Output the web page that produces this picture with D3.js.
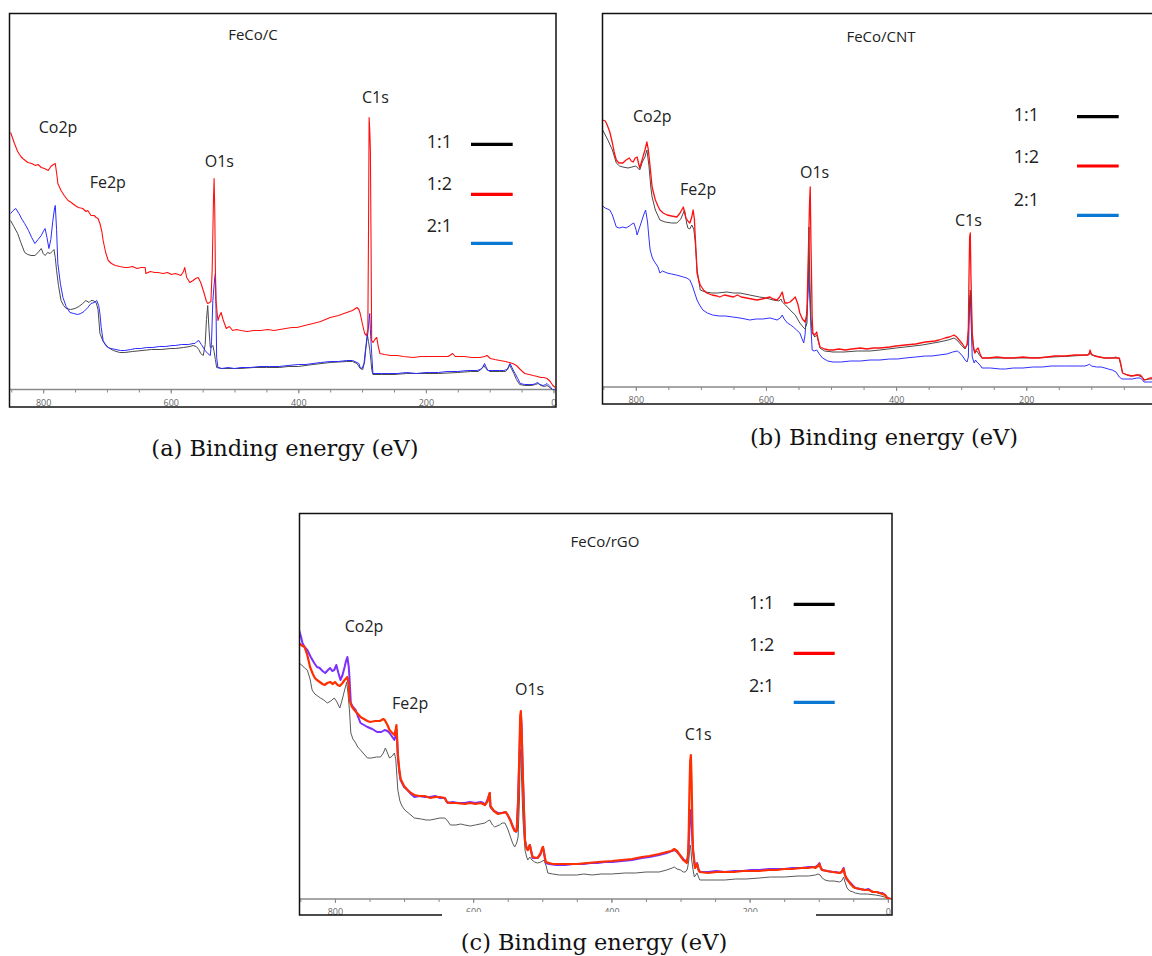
<!DOCTYPE html>
<html>
<head>
<meta charset="utf-8">
<script src="https://cdn.jsdelivr.net/npm/d3@7/dist/d3.min.js"></script>
<style>
  body { margin: 0; background: #fff; }
  svg { display: block; }
  .lbl { font-family: "Open Sans", sans-serif; fill: #222; }
  .cap { font-family: "DejaVu Serif", serif; fill: #111; }
  .tick text { font-family: "Open Sans", sans-serif; fill: #666; }
</style>
</head>
<body>
<div id="chart"></div>
<script>
// ---- data: [binding energy (eV), intensity (a.u.)] ----

// (a) FeCo/C
var aRatio11 = [[851,169],[846,163],[840,156],[835,147],[829,137],[824,135],[819,134],[813,134],[808,137],[803,141],[800,136],[797,134],[793,137],[789,136],[786,138],[783,140],[781,132],[779,119],[776,104],[772,89],[768,84],[764,81],[757,80],[750,81],[744,83],[738,86],[733,89],[728,87],[725,89],[722,89],[717,87],[714,80],[711,56],[706,48],[698,42],[690,39],[680,37],[672,37],[660,38],[645,39],[630,40],[615,40],[600,41],[593,41],[580,42],[570,43],[565,44],[560,43],[556,40],[553,36],[549,34],[546,45],[544,70],[542,84],[540,60],[538,42],[535,43],[534,44],[532,38],[530,30],[528,22],[520,21],[510,21],[500,21],[490,21],[470,22],[450,22],[430,22],[416,23],[400,23],[377,25],[350,27],[324,28],[315,28],[308,26],[303,21],[299,20],[296,28],[294,42],[292,56],[290,48],[288,40],[286,28],[285,20],[283,15],[270,15],[250,15],[230,16],[200,16],[180,16],[150,17],[130,18],[118,18],[112,21],[109,24],[106,21],[100,18],[85,18],[75,18],[71,21],[69,25],[66,21],[62,16],[58,10],[53,5],[45,4],[35,4],[28,5],[24,6],[20,4],[14,3],[10,4],[6,2],[2,0],[-3,0]];
var aRatio12 = [[851,257],[845,246],[840,238],[835,233],[832,231],[828,229],[824,227],[818,226],[812,224],[808,225],[803,222],[798,221],[792,219],[788,223],[784,225],[781,226],[778,212],[777,206],[772,199],[767,194],[761,189],[756,187],[750,184],[745,182],[738,181],[733,178],[730,179],[727,176],[725,174],[720,174],[717,172],[714,171],[711,166],[708,158],[706,149],[702,137],[698,129],[693,126],[687,124],[680,123],[672,122],[667,122],[660,123],[653,121],[646,122],[640,122],[639,116],[632,118],[625,117],[620,117],[612,116],[605,117],[599,115],[593,116],[588,115],[584,114],[580,118],[578,122],[575,112],[570,107],[565,109],[561,111],[557,112],[553,107],[548,97],[544,88],[542,86],[539,87],[537,88],[535,120],[533,190],[532,211],[531,180],[530,120],[529,89],[527,75],[526,69],[524,73],[521,77],[518,70],[513,61],[508,63],[503,59],[497,60],[490,59],[480,58],[470,59],[459,59],[448,60],[438,59],[429,60],[420,61],[410,62],[402,62],[390,64],[377,66],[365,68],[350,72],[337,74],[324,77],[315,79],[308,82],[305,80],[303,76],[300,67],[296,56],[293,54],[291,60],[290,150],[289,272],[288,260],[287,240],[286,150],[285,49],[283,47],[280,50],[277,52],[275,44],[272,36],[265,35],[255,34],[245,34],[235,33],[220,32],[208,33],[194,33],[180,33],[165,33],[158,36],[154,33],[140,33],[128,32],[115,32],[108,33],[104,34],[99,31],[92,30],[84,29],[75,28],[64,26],[58,24],[52,20],[45,16],[38,15],[32,14],[25,13],[20,12],[15,12],[10,11],[5,8],[1,4],[-3,2]];
var aRatio21 = [[851,176],[847,179],[843,181],[838,176],[833,170],[829,166],[823,159],[818,152],[813,146],[808,150],[803,154],[799,159],[797,161],[794,152],[791,141],[788,150],[785,168],[782,182],[781,184],[779,160],[777,126],[773,106],[769,92],[764,83],[758,77],[752,76],[746,75],[741,76],[736,78],[730,82],[725,86],[720,87],[716,89],[713,84],[711,76],[709,62],[706,49],[702,44],[698,42],[694,41],[686,40],[679,39],[672,39],[663,40],[655,41],[647,41],[638,42],[628,42],[618,43],[608,43],[598,44],[593,44],[583,45],[572,45],[565,46],[562,46],[559,48],[556,49],[552,45],[546,39],[542,36],[538,34],[536,48],[534,89],[531,112],[530,116],[529,80],[528,32],[526,22],[520,21],[510,22],[500,21],[490,22],[475,22],[460,23],[445,23],[430,23],[416,24],[400,25],[388,25],[377,26],[365,27],[350,28],[337,28],[324,29],[315,29],[308,27],[305,26],[303,22],[300,21],[297,26],[295,38],[291,56],[289,70],[288,76],[287,60],[285,36],[283,16],[270,16],[258,16],[245,16],[230,17],[215,16],[200,17],[194,17],[180,17],[167,18],[150,18],[135,19],[120,19],[115,20],[111,22],[108,26],[106,23],[103,19],[95,19],[85,19],[78,19],[73,20],[70,23],[68,26],[65,22],[62,18],[60,16],[56,11],[52,6],[45,5],[38,5],[32,5],[28,6],[25,7],[21,5],[16,4],[12,5],[10,6],[7,4],[4,2],[2,0],[-3,0]];

// (b) FeCo/CNT
var bRatio11 = [[851,257],[847,252],[843,247],[836,237],[830,224],[825,221],[820,220],[812,219],[806,220],[800,221],[794,217],[790,225],[786,230],[783,237],[780,222],[777,200],[775,190],[770,177],[763,167],[755,165],[745,164],[737,164],[731,168],[727,174],[725,177],[722,164],[720,159],[717,158],[714,162],[711,158],[709,147],[706,118],[703,105],[701,97],[693,95],[683,94],[675,94],[660,95],[650,94],[640,94],[625,92],[610,90],[600,89],[589,87],[580,86],[577,88],[575,85],[570,82],[563,77],[555,72],[548,64],[543,60],[540,58],[537,64],[535,110],[534,160],[533,120],[531,70],[529,54],[525,50],[522,52],[517,39],[510,36],[497,35],[480,35],[460,36],[440,36],[425,37],[400,39],[386,40],[360,42],[334,45],[320,47],[311,49],[305,46],[300,42],[294,38],[290,44],[288,70],[286,97],[284,70],[283,50],[281,38],[279,34],[276,36],[272,32],[268,29],[240,29],[200,29],[160,30],[130,31],[105,32],[102,36],[100,32],[80,29],[68,29],[62,30],[57,28],[54,20],[52,14],[40,11],[30,12],[22,10],[19,7],[10,8],[2,8],[-3,8]];
var bRatio12 = [[851,267],[847,266],[844,262],[840,255],[836,244],[833,234],[830,227],[826,224],[820,224],[815,227],[810,229],[807,226],[804,225],[801,229],[798,230],[796,224],[794,219],[790,228],[786,237],[783,245],[781,238],[778,220],[775,200],[772,192],[770,187],[766,181],[763,177],[758,174],[752,172],[745,171],[737,170],[732,174],[727,180],[725,174],[723,169],[720,166],[717,164],[714,170],[712,177],[710,168],[709,154],[707,130],[706,114],[703,106],[701,102],[696,97],[691,94],[683,92],[675,91],[671,90],[664,92],[657,91],[650,90],[644,92],[638,90],[630,89],[622,88],[614,87],[606,88],[600,89],[594,90],[589,88],[583,87],[579,90],[575,95],[573,89],[571,84],[567,84],[563,85],[558,88],[555,90],[551,83],[548,74],[544,68],[540,65],[538,70],[537,77],[535,130],[533,185],[532,200],[531,150],[529,70],[528,54],[525,52],[522,55],[520,48],[517,40],[510,38],[503,37],[497,37],[488,38],[478,37],[468,38],[455,39],[445,38],[435,39],[425,39],[410,40],[400,41],[386,42],[370,43],[355,45],[340,46],[334,47],[325,49],[318,50],[311,52],[307,50],[303,47],[298,43],[294,39],[291,42],[289,57],[288,110],[287,150],[286,154],[285,110],[283,54],[281,40],[279,34],[277,37],[274,39],[271,33],[268,29],[258,29],[245,30],[232,29],[220,29],[205,30],[192,29],[180,29],[168,30],[156,31],[140,31],[125,32],[112,32],[105,32],[103,33],[102,37],[100,33],[95,31],[88,30],[79,29],[72,29],[68,29],[62,29],[57,29],[55,24],[52,14],[45,12],[37,11],[30,12],[25,12],[22,10],[19,7],[14,8],[10,9],[6,9],[2,8],[-3,8]];
var bRatio21 = [[851,181],[847,179],[840,177],[836,172],[830,160],[825,159],[820,160],[815,159],[810,161],[806,163],[803,164],[800,158],[798,152],[795,158],[791,166],[788,172],[785,177],[782,165],[780,150],[778,137],[775,130],[773,127],[769,123],[766,120],[763,114],[759,116],[752,114],[745,113],[738,112],[732,111],[727,110],[722,109],[717,107],[713,101],[710,95],[706,87],[702,82],[697,77],[690,74],[682,72],[672,71],[662,71],[651,70],[640,69],[632,68],[625,67],[615,68],[605,68],[594,69],[588,68],[583,67],[578,69],[575,72],[572,68],[567,64],[562,62],[558,60],[553,57],[548,54],[545,49],[542,44],[540,52],[538,70],[537,74],[535,100],[534,120],[533,95],[531,60],[529,37],[526,36],[522,37],[518,33],[513,29],[505,26],[497,25],[485,25],[470,26],[455,26],[440,27],[425,27],[410,28],[398,28],[386,29],[370,30],[355,31],[345,31],[334,32],[322,33],[313,35],[306,36],[302,34],[298,31],[294,27],[291,25],[289,30],[288,60],[287,88],[286,92],[285,70],[283,30],[280,24],[278,27],[276,25],[274,24],[270,21],[268,19],[255,19],[240,18],[232,18],[220,19],[205,19],[190,20],[175,20],[162,21],[156,21],[140,21],[125,21],[110,21],[105,22],[103,23],[100,21],[92,20],[85,20],[79,19],[74,18],[68,17],[62,15],[57,10],[53,8],[45,8],[37,8],[30,9],[25,9],[21,7],[19,5],[12,5],[6,5],[2,5],[-3,5]];

// (c) FeCo/rGO
var cRatio11 = [[852,236],[848,234],[844,231],[840,229],[836,220],[833,209],[829,205],[825,203],[821,201],[816,199],[811,196],[806,198],[801,201],[797,197],[793,191],[790,198],[786,209],[784,214],[783,217],[781,205],[779,189],[777,166],[774,160],[770,156],[767,152],[763,149],[758,145],[753,141],[747,141],[740,142],[734,142],[730,146],[727,151],[724,146],[721,141],[717,143],[714,146],[712,140],[709,109],[706,98],[703,93],[699,89],[692,85],[685,81],[675,80],[668,79],[662,79],[655,80],[648,81],[641,81],[637,78],[633,74],[625,74],[618,75],[612,74],[604,73],[597,74],[590,75],[583,76],[579,78],[576,79],[572,74],[569,72],[562,74],[558,76],[554,76],[550,70],[546,62],[543,56],[540,52],[537,56],[535,62],[533,100],[532,140],[531,150],[530,120],[528,80],[526,60],[525,49],[523,43],[521,39],[518,42],[515,39],[511,37],[507,36],[502,37],[497,39],[494,32],[492,26],[485,25],[475,24],[467,24],[450,24],[440,25],[428,24],[415,25],[400,25],[380,26],[365,26],[350,27],[331,27],[320,29],[312,31],[309,32],[305,30],[300,29],[296,27],[293,27],[290,30],[288,39],[287,48],[286,54],[285,50],[284,40],[282,30],[280,22],[278,24],[276,26],[274,22],[272,19],[260,19],[250,19],[236,19],[220,20],[205,20],[186,21],[170,22],[150,22],[130,23],[115,23],[105,24],[101,25],[98,24],[95,21],[91,19],[85,18],[78,18],[70,17],[67,18],[64,22],[62,17],[59,11],[55,8],[50,7],[47,6],[40,5],[30,5],[18,4],[10,3],[5,2],[1,1],[-4,0],[-6,0]];
var cRatio12 = [[852,256],[849,254],[844,252],[840,244],[836,232],[832,225],[829,221],[826,219],[822,217],[818,215],[815,214],[811,216],[807,217],[803,215],[800,217],[796,214],[793,213],[789,216],[786,219],[782,222],[780,214],[779,199],[776,193],[772,189],[768,186],[763,182],[758,180],[753,178],[749,177],[742,178],[735,178],[730,180],[728,179],[724,174],[721,169],[717,166],[714,164],[712,170],[711,174],[710,160],[709,145],[707,130],[705,120],[700,113],[695,109],[690,106],[685,104],[678,103],[670,103],[662,101],[655,102],[648,102],[641,101],[638,97],[634,96],[625,96],[612,95],[604,96],[597,95],[589,96],[583,94],[579,98],[577,104],[576,106],[575,93],[570,88],[564,85],[558,86],[553,87],[550,84],[546,78],[542,71],[540,68],[537,68],[535,95],[533,150],[532,182],[531,188],[530,170],[528,120],[526,78],[525,58],[523,51],[521,49],[518,54],[516,47],[514,42],[507,41],[503,45],[500,51],[499,52],[497,44],[495,37],[485,35],[467,35],[450,35],[435,36],[420,37],[399,38],[385,39],[370,40],[356,42],[345,43],[331,45],[320,47],[313,48],[309,50],[305,48],[301,44],[296,39],[291,36],[289,45],[288,70],[287,110],[286,138],[285,144],[284,120],[283,80],[282,50],[280,36],[279,31],[277,34],[276,35],[274,29],[272,27],[260,26],[248,27],[236,27],[222,27],[210,28],[198,28],[186,28],[172,29],[160,29],[150,30],[138,30],[125,31],[115,31],[108,32],[105,31],[101,33],[99,35],[97,31],[95,29],[88,28],[80,27],[70,26],[67,27],[64,30],[62,24],[60,21],[57,18],[54,15],[50,12],[47,11],[40,10],[33,9],[28,9],[24,8],[22,7],[16,7],[12,6],[8,5],[4,4],[1,1],[-4,0],[-6,0]];
var cRatio21 = [[852,269],[849,262],[847,256],[844,252],[840,249],[835,242],[830,236],[826,232],[822,231],[818,228],[814,226],[810,229],[807,231],[804,228],[801,229],[798,234],[795,226],[792,219],[789,224],[786,232],[784,238],[782,242],[780,232],[779,222],[777,196],[774,192],[770,189],[767,183],[763,176],[758,174],[753,172],[746,170],[739,167],[733,167],[728,169],[724,168],[721,166],[717,162],[714,159],[712,164],[711,169],[710,158],[709,142],[707,128],[705,119],[700,112],[695,109],[690,105],[685,102],[678,103],[670,102],[662,102],[655,103],[648,101],[641,101],[639,98],[637,96],[630,97],[622,96],[612,96],[605,97],[597,96],[589,97],[585,96],[583,94],[580,98],[577,104],[576,106],[575,92],[570,88],[564,86],[558,86],[553,87],[550,84],[546,79],[543,73],[540,69],[538,67],[537,69],[535,100],[534,122],[532,170],[531,186],[530,175],[528,122],[526,80],[525,59],[523,52],[521,49],[519,53],[518,54],[516,48],[514,41],[510,41],[507,41],[503,44],[500,50],[499,52],[497,45],[495,36],[490,35],[480,34],[467,34],[455,35],[440,35],[430,36],[420,36],[410,37],[399,37],[385,38],[370,39],[356,41],[345,42],[331,44],[320,46],[313,48],[309,49],[305,47],[301,44],[296,40],[291,37],[289,42],[288,56],[287,70],[286,85],[285,89],[284,80],[283,60],[282,49],[280,38],[279,32],[277,34],[276,36],[274,30],[272,27],[260,27],[248,28],[236,27],[222,28],[210,28],[198,29],[186,29],[172,30],[160,30],[150,30],[138,31],[125,31],[115,32],[108,32],[105,32],[101,34],[99,36],[97,31],[95,29],[88,28],[80,27],[75,27],[70,26],[67,27],[64,31],[62,24],[60,20],[57,18],[54,16],[50,13],[47,11],[40,10],[33,9],[28,10],[24,8],[22,7],[16,7],[12,6],[8,6],[4,4],[1,1],[-4,0],[-6,0]];

var legendLabels = ["1:1", "1:2", "2:1"];
var peakLabels = ["Co2p", "Fe2p", "O1s", "C1s"];
var tickLabels = [800, 600, 400, 200, 0];
var titles = ["FeCo/C", "FeCo/CNT", "FeCo/rGO"];
var captions = ["(a) Binding energy (eV)", "(b) Binding energy (eV)", "(c) Binding energy (eV)"];

// ---- layout (pixels) ----
var W = 1152, H = 956;
var legendColors = ["#000000", "#ff0000", "#0a78d2"];

var panels = [
  { series: [aRatio11, aRatio21, aRatio12], colors: ["#4a4a4a", "#2b2bff", "#ff1010"], widths: [1, 1, 1.1],
    frame: [9.5, 13.5, 556, 407], axisY: 389.5, xr: [10, 556], dom: [852, -4],
    title: [253, 40], peaks: [[38.7, 133], [89.7, 188], [204.7, 167], [362, 103]],
    legText: 426.7, legBase: [148.3, 190, 231.7], legLine: [471, 512.7], legY: [144.3, 194.3, 243.3],
    caption: [285, 456] },
  { series: [bRatio21, bRatio11, bRatio12], colors: ["#3030ff", "#4a4a4a", "#ff1010"], widths: [1, 1, 1.3],
    frame: [602.5, 13.5, 1159, 404], axisY: 387, xr: [602, 1159], dom: [852, -4],
    title: [881, 42], peaks: [[633, 122], [680, 195], [800, 178], [955, 226]],
    legText: 1013.7, legBase: [121, 163, 206], legLine: [1077, 1118.7], legY: [116.7, 166, 215.3],
    caption: [884, 445] },
  { series: [cRatio11, cRatio21, cRatio12], colors: ["#5a5a5a", "#7b30ff", "#ff3000"], widths: [1, 2, 2.2],
    frame: [299.5, 513.5, 892, 915], axisY: 899, xr: [299, 892], dom: [852, -6],
    title: [605, 547], peaks: [[344.7, 631.5], [392, 708.7], [515, 695.4], [684.7, 739.7]],
    legText: 749, legBase: [608.5, 651, 692], legLine: [793.7, 834.7], legY: [604.3, 653.3, 702.3],
    caption: [594, 950], capBox: [442, 816] }
];

var svg = d3.select("#chart").append("svg")
    .attr("width", W)
    .attr("height", H);

panels.forEach(function(p, pi) {
    var f = p.frame;
    var x = d3.scaleLinear().domain(p.dom).range(p.xr);
    // 1 a.u. of intensity per pixel above the energy axis
    var y = d3.scaleLinear().domain([0, p.axisY - f[1]]).range([p.axisY, f[1]]);

    var g = svg.append("g");

    g.append("clipPath").attr("id", "clip" + pi)
      .append("rect")
        .attr("x", f[0]).attr("y", f[1])
        .attr("width", f[2] - f[0]).attr("height", p.axisY - f[1]);

    // minor ticks every 50 eV, labels every 200 eV (only those inside the page)
    var shown = tickLabels.filter(function(t) { return x(t) + 6 < W; });
    var minor = d3.axisBottom(x).tickValues(d3.range(850, -1, -50)).tickSize(3).tickFormat("");
    var major = d3.axisBottom(x).tickValues(shown).tickSize(4).tickPadding(6);
    g.append("g").attr("transform", "translate(0," + p.axisY + ")").call(minor)
        .call(function(s) { s.select(".domain").remove(); s.selectAll("line").attr("stroke", "#888"); });
    var ax = g.append("g").attr("transform", "translate(0," + p.axisY + ")").call(major);
    ax.select(".domain").remove();
    ax.selectAll("line").attr("stroke", "#888");
    ax.selectAll("text").attr("font-size", 9);

    g.append("line")
        .attr("x1", f[0]).attr("x2", f[2])
        .attr("y1", p.axisY).attr("y2", p.axisY)
        .attr("stroke", "#8a8a8a").attr("stroke-width", 1.3);

    // spectra
    var line = d3.line()
        .x(function(d) { return x(d[0]); })
        .y(function(d) { return y(d[1]); });
    g.append("g").attr("clip-path", "url(#clip" + pi + ")")
      .selectAll("path").data(p.series).enter()
      .append("path")
        .attr("d", line)
        .attr("fill", "none")
        .attr("stroke", function(d, i) { return p.colors[i]; })
        .attr("stroke-width", function(d, i) { return p.widths[i]; })
        .attr("stroke-linejoin", "round");

    // frame
    g.append("rect")
        .attr("x", f[0]).attr("y", f[1])
        .attr("width", f[2] - f[0]).attr("height", f[3] - f[1])
        .attr("fill", "none").attr("stroke", "#111").attr("stroke-width", 1.5);

    g.append("text").attr("class", "lbl")
        .attr("x", p.title[0]).attr("y", p.title[1])
        .attr("text-anchor", "middle").attr("font-size", 15)
        .text(titles[pi]);

    g.selectAll(".peak").data(peakLabels).enter()
      .append("text").attr("class", "lbl peak")
        .attr("x", function(d, i) { return p.peaks[i][0]; })
        .attr("y", function(d, i) { return p.peaks[i][1]; })
        .attr("font-size", 16)
        .text(function(d) { return d; });

    // legend
    g.selectAll(".legt").data(legendLabels).enter()
      .append("text").attr("class", "lbl legt")
        .attr("x", p.legText)
        .attr("y", function(d, i) { return p.legBase[i]; })
        .attr("font-size", 18).attr("fill", "#000")
        .text(function(d) { return d; });
    g.selectAll(".legl").data(legendLabels).enter()
      .append("line").attr("class", "legl")
        .attr("x1", p.legLine[0]).attr("x2", p.legLine[1])
        .attr("y1", function(d, i) { return p.legY[i]; })
        .attr("y2", function(d, i) { return p.legY[i]; })
        .attr("stroke", function(d, i) { return legendColors[i]; })
        .attr("stroke-width", 3.2);

    if (p.capBox) {
        g.append("rect")
            .attr("x", p.capBox[0]).attr("y", f[3] - 3)
            .attr("width", p.capBox[1] - p.capBox[0]).attr("height", 6)
            .attr("fill", "#fff");
    }

    g.append("text").attr("class", "cap")
        .attr("x", p.caption[0]).attr("y", p.caption[1])
        .attr("text-anchor", "middle").attr("font-size", 22.5)
        .text(captions[pi]);
});
</script>
</body>
</html>
